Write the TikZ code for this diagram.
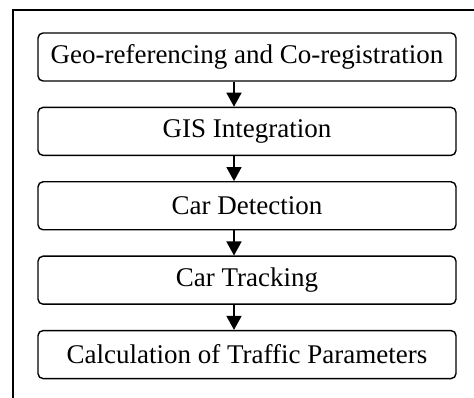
\documentclass[tikz,border=0pt]{standalone}
\usepackage{fontspec}
\setmainfont{Liberation Serif}
\usetikzlibrary{positioning,arrows.meta}
\begin{document}
\begin{tikzpicture}[
    x=1pt, y=1pt,
    node distance=25pt,
    stage/.style={rectangle, draw=black, line width=1.4pt, minimum width=418pt, minimum height=48pt, align=center, rounded corners=5pt, font=\fontsize{27}{30}\selectfont, inner sep=0pt},
    arrow/.style={-{Triangle[width=15pt,length=14pt]}, line width=1.6pt, black}
]
\useasboundingbox (0,0) rectangle (474,398);
\draw[line width=1.4pt] (13,388) rectangle (490,-20);

\node[stage] (georef) at (247,341) {Geo-referencing and Co-registration};
\node[stage, below=of georef] (gis) {GIS Integration};
\node[stage, below=of gis] (detect) {Car Detection};
\node[stage, below=of detect] (track) {Car Tracking};
\node[stage, below=of track] (params) {Calculation of Traffic Parameters};

\draw[arrow] ([xshift=-13pt]georef.south) -- ([xshift=-13pt]gis.north);
\draw[arrow] ([xshift=-13pt]gis.south) -- ([xshift=-13pt]detect.north);
\draw[arrow] ([xshift=-13pt]detect.south) -- ([xshift=-13pt]track.north);
\draw[arrow] ([xshift=-13pt]track.south) -- ([xshift=-13pt]params.north);
\end{tikzpicture}
\end{document}
